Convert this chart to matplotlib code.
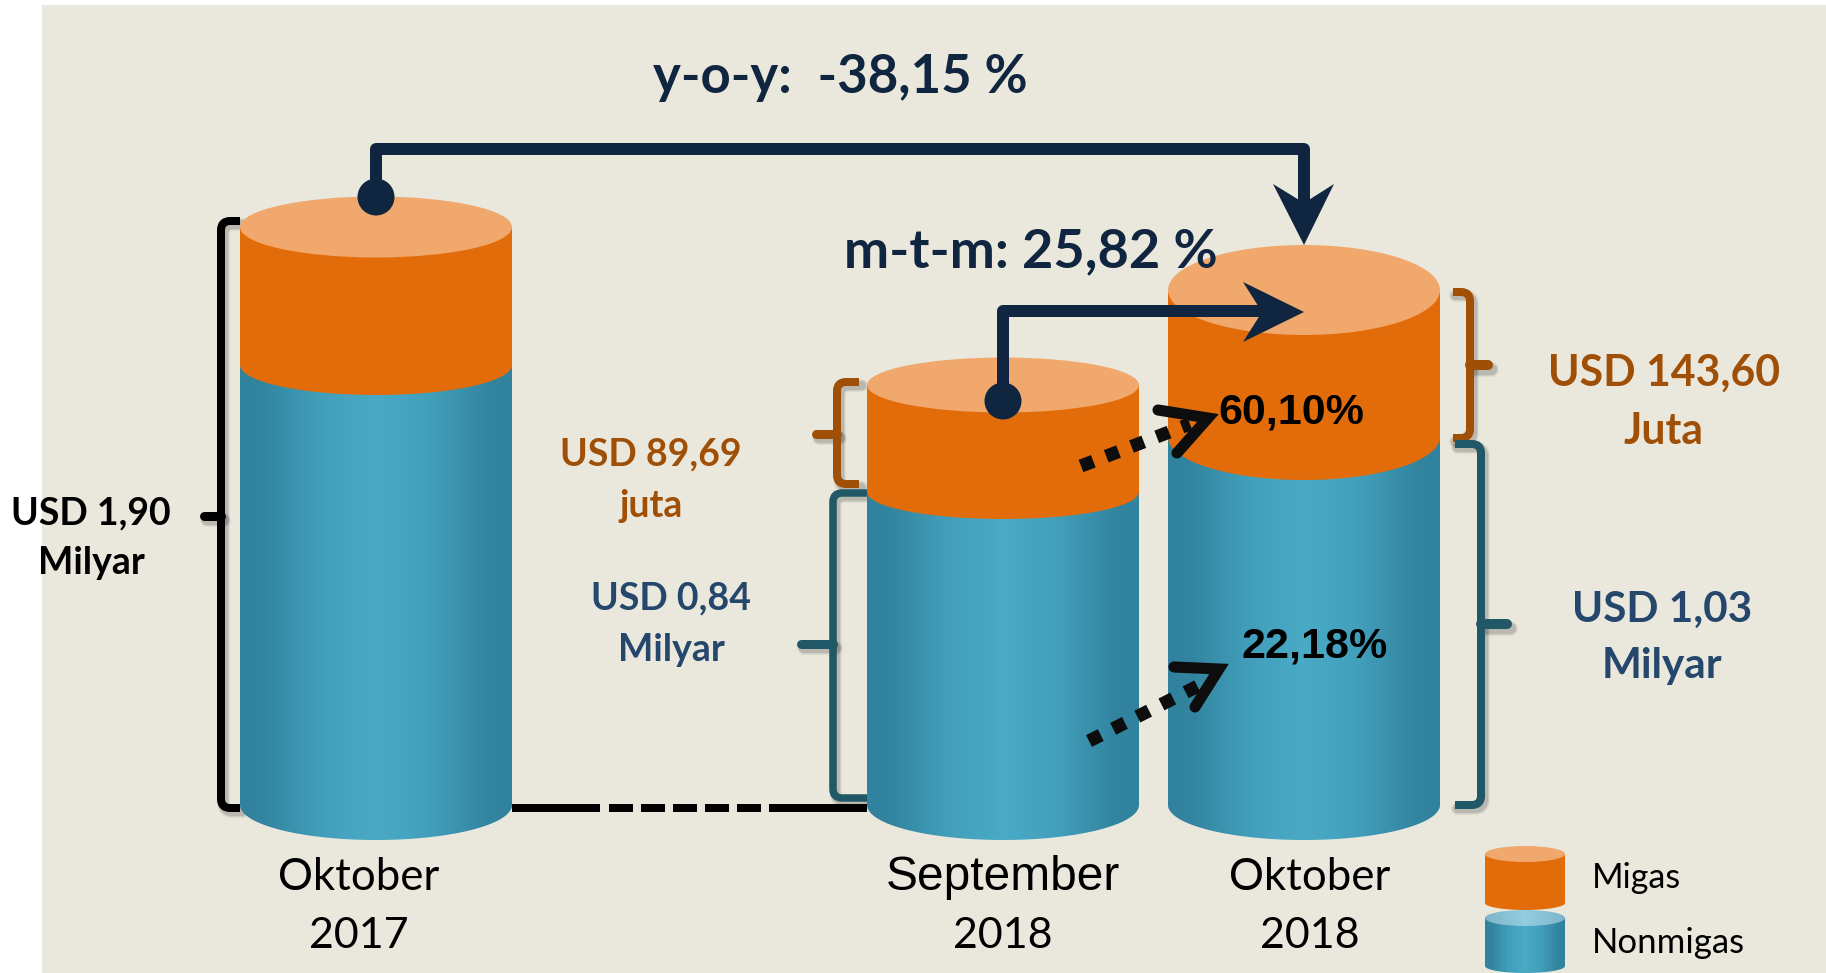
import numpy as np
import matplotlib
matplotlib.use("Agg")
import matplotlib.pyplot as plt
from matplotlib.colors import LinearSegmentedColormap
from matplotlib.patches import PathPatch, Ellipse, Rectangle, Polygon
from matplotlib.path import Path

# ---- data -----------------------------------------------------------------
periods = ["Oktober\n2017", "September\n2018", "Oktober\n2018"]
nonmigas_drawn = [440, 313, 368]      # drawn height of the blue part
migas_drawn = [138, 107, 147]         # drawn height of the orange part
total_label = "USD 1,90\nMilyar"
migas_labels = ["USD 89,69\njuta", "USD 143,60\nJuta"]
nonmigas_labels = ["USD 0,84\nMilyar", "USD 1,03\nMilyar"]
yoy_label = "y-o-y:  -38,15 %"
mtm_label = "m-t-m: 25,82 %"
migas_growth = "60,10%"
nonmigas_growth = "22,18%"
legend_names = ["Migas", "Nonmigas"]

# ---- layout ----------------------------------------------------------------
W, H = 1826, 973
BASE = 805
cyl_left = [240, 867, 1168]
cyl_w = 272
top_ry = [30.5, 27.5, 45]
seam_ry = [30, 27, 43]
bot_ry = 35

BG = "#EAE8DD"
ORANGE = "#E36C0A"
ORANGE_TOP = "#F1A86D"
NAVY = "#10253F"
BROWN = "#A04F07"
TEAL = "#205867"
LABEL_BLUE = "#24476B"
BLACK = "#000000"
DARK = "#0D0D0D"
blue_cmap = LinearSegmentedColormap.from_list(
    "cyl", [(0, "#30829E"), (0.08, "#32849F"), (0.3, "#429FBB"), (0.5, "#4AABC6"),
            (0.7, "#429FBB"), (0.92, "#32849F"), (1, "#30829E")])
lid_cmap = LinearSegmentedColormap.from_list(
    "lid", [(0, "#7DB6CB"), (0.5, "#94CDDF"), (1, "#7DB6CB")])

LATO = ["Lato", "DejaVu Sans"]
ARIAL = ["Liberation Sans", "DejaVu Sans"]
PX = 0.72  # points per pixel at 100 dpi

fig = plt.figure(figsize=(W / 100, H / 100), dpi=100, facecolor="white")
ax = fig.add_axes([0, 0, 1, 1])
ax.axis("off")
ax.add_patch(Rectangle((42, 5), W - 42, H - 5, fc=BG, ec="none", zorder=0))
grad = np.linspace(0, 1, 256).reshape(1, -1)


def arc(cx, cy, rx, ry, a0, a1, n=80):
    t = np.radians(np.linspace(a0, a1, n))
    return np.c_[cx + rx * np.cos(t), cy + ry * np.sin(t)]


def cyl_blue(x, w, ybot, yseam, rb, z=2):
    cx = x + w / 2
    low = arc(cx, ybot, w / 2, rb, 0, 180)
    pts = np.r_[[[x + w, yseam]], low, [[x, yseam]]]
    clip = Polygon(pts, closed=True, transform=ax.transData, fc="none", ec="none")
    ax.add_patch(clip)
    im = ax.imshow(grad, cmap=blue_cmap, extent=(x, x + w, ybot + rb, yseam),
                   aspect="auto", zorder=z, interpolation="bilinear")
    im.set_clip_path(clip)


def cyl_orange(x, w, yseam, ytop, rs, rt, z=3):
    cx = x + w / 2
    pts = np.r_[arc(cx, yseam, w / 2, rs, 0, 180), [[x, ytop]], [[x + w, ytop]]]
    ax.add_patch(Polygon(pts, closed=True, fc=ORANGE, ec="none", zorder=z))
    ax.add_patch(Ellipse((cx, ytop), w, 2 * rt, fc=ORANGE_TOP, ec="none", zorder=z + 0.1))


def soft_shadow(verts, codes, lw, z):
    ps = Path(np.asarray(verts, float) + [2.5, 3.5], codes)
    for extra, alpha in [(5, 0.05), (3, 0.07), (1, 0.10)]:
        ax.add_patch(PathPatch(ps, fc="none", ec="#000000", alpha=alpha, lw=(lw + extra) * PX,
                               capstyle="round", joinstyle="round", zorder=z))


def brace(tip_x, spine_x, y0, y1, tick_x, tick_y, color, lw=8, tick_lw=None):
    s = np.sign(tip_x - spine_x)
    r = 9
    M, L, C = Path.MOVETO, Path.LINETO, Path.CURVE3
    verts = [(tip_x, y0), (spine_x + s * r, y0), (spine_x, y0), (spine_x, y0 + r),
             (spine_x, y1 - r), (spine_x, y1), (spine_x + s * r, y1), (tip_x, y1)]
    codes = [M, L, C, C, L, C, C, L]
    soft_shadow(verts, codes, lw, 1.2)
    soft_shadow([(tick_x, tick_y), (spine_x, tick_y)], [M, L], tick_lw or lw, 1.2)
    ax.add_patch(PathPatch(Path(verts, codes), fc="none", ec=color, lw=lw * PX, capstyle="butt",
                           joinstyle="round", zorder=4))
    ax.plot([tick_x, spine_x], [tick_y, tick_y], color=color, lw=(tick_lw or lw) * PX,
            solid_capstyle="round", zorder=4)


# ---- cylinders -------------------------------------------------------------
for x, nm, mg, rt, rs in zip(cyl_left, nonmigas_drawn, migas_drawn, top_ry, seam_ry):
    yseam = BASE - nm
    ytop = yseam - mg
    cyl_blue(x, cyl_w, BASE, yseam, bot_ry)
    cyl_orange(x, cyl_w, yseam, ytop, rs, rt)

# ---- dashed base connector -------------------------------------------------
ax.plot([512, 600], [808, 808], color=BLACK, lw=8 * PX, solid_capstyle="butt", zorder=1.5)
ax.plot([609, 785], [808, 808], color=BLACK, lw=8 * PX, linestyle=(0, (3.0, 1.0)),
        dash_capstyle="butt", zorder=1.5)
ax.plot([785, 867], [808, 808], color=BLACK, lw=8 * PX, solid_capstyle="butt", zorder=1.5)

# ---- braces ----------------------------------------------------------------
brace(240, 221, 221, 808, 204, 516, BLACK, lw=8, tick_lw=9)
brace(859, 837, 382, 484, 816, 434, BROWN, lw=8, tick_lw=9)
brace(867, 833, 493, 798, 801, 644, TEAL, lw=7.5, tick_lw=9)
brace(1453, 1470, 292, 438, 1488, 365, BROWN, lw=8, tick_lw=10)
brace(1455, 1481, 444, 805, 1507, 624, TEAL, lw=8, tick_lw=10)

# ---- y-o-y connector -------------------------------------------------------
ax.plot([376, 376, 1304, 1304], [197, 149, 149, 208], color=NAVY, lw=12 * PX,
        solid_joinstyle="round", solid_capstyle="butt", zorder=6)
ax.add_patch(Ellipse((376, 197), 37, 37, fc=NAVY, ec="none", zorder=6))
ax.add_patch(Polygon([(1304, 245), (1273, 184), (1304, 203), (1334, 184)], closed=True,
                     fc=NAVY, ec="none", zorder=6))

# ---- m-t-m connector -------------------------------------------------------
ax.plot([1003, 1003, 1265], [401, 311, 311], color=NAVY, lw=12 * PX,
        solid_joinstyle="round", solid_capstyle="butt", zorder=6)
ax.add_patch(Ellipse((1003, 401), 37, 37, fc=NAVY, ec="none", zorder=6))
ax.add_patch(Polygon([(1304, 312), (1243, 282), (1262, 312), (1243, 342)], closed=True,
                     fc=NAVY, ec="none", zorder=6))

# ---- growth arrows ---------------------------------------------------------
for (sx, sy), (ex, ey), (b1x, b1y), (tx, ty), (b2x, b2y) in [
    ((1081, 466), (1190, 424), (1158, 410), (1208, 418), (1177, 453)),
    ((1089, 741), (1198, 686), (1174, 667), (1219, 669), (1195, 707)),
]:
    ax.plot([sx, ex], [sy, ey], color=DARK, lw=9.5, linestyle=(0, (1.0, 1.05)),
            dash_capstyle="butt", zorder=6)
    ax.plot([b1x, tx, b2x], [b1y, ty, b2y], color=DARK, lw=8, solid_capstyle="round",
            solid_joinstyle="miter", zorder=6)

# ---- text ------------------------------------------------------------------
def txt(x, y, s, size, color=BLACK, weight="normal", family=LATO, ha="center", z=7):
    ax.text(x, y, s, fontsize=size, color=color, fontweight=weight, family=family,
            ha=ha, va="center", zorder=z)


def two_lines(x, y0, y1, s, size, color, weight="bold"):
    a, b = s.split("\n")
    txt(x, y0, a, size, color, weight)
    txt(x, y1, b, size, color, weight)


txt(840, 77, yoy_label, 38, NAVY, "bold")
txt(1031, 252, mtm_label, 39, NAVY, "bold")
two_lines(91, 513, 563, total_label, 27, BLACK)
two_lines(651, 454, 506, migas_labels[0], 27, BROWN)
two_lines(671, 598, 650, nonmigas_labels[0], 27, LABEL_BLUE)
two_lines(1664, 373, 431, migas_labels[1], 30.8, BROWN)
two_lines(1662, 610, 666, nonmigas_labels[1], 30.4, LABEL_BLUE)
txt(1291, 412, migas_growth, 31, BLACK, "bold", ARIAL)
txt(1315, 646, nonmigas_growth, 31, BLACK, "bold", ARIAL)

label_x = [359, 1003, 1310]
for i, (x, s) in enumerate(zip(label_x, periods)):
    a, b = s.split("\n")
    txt(x, 878, a, 34.5 if i == 1 else 31.5, BLACK, family=ARIAL if i == 1 else LATO)
    txt(x, 936, b, 31, BLACK)

# ---- legend ----------------------------------------------------------------
lx, lw_ = 1485, 80
ax.add_patch(Polygon(np.r_[arc(lx + lw_ / 2, 903, lw_ / 2, 7, 0, 180), [[lx, 854]], [[lx + lw_, 854]]],
                     closed=True, fc=ORANGE, ec="none", zorder=3))
ax.add_patch(Ellipse((lx + lw_ / 2, 854), lw_, 16, fc=ORANGE_TOP, ec="none", zorder=3.1))
clip2 = Polygon(np.r_[arc(lx + lw_ / 2, 966, lw_ / 2, 7, 0, 180), [[lx, 918]], [[lx + lw_, 918]]],
                closed=True, fc="none", ec="none", transform=ax.transData)
ax.add_patch(clip2)
im2 = ax.imshow(grad, cmap=blue_cmap, extent=(lx, lx + lw_, 973, 918), aspect="auto", zorder=3)
im2.set_clip_path(clip2)
lid = Ellipse((lx + lw_ / 2, 918), lw_, 16, fc="none", ec="none", transform=ax.transData)
ax.add_patch(lid)
im3 = ax.imshow(grad, cmap=lid_cmap, extent=(lx, lx + lw_, 926, 910), aspect="auto", zorder=3.1)
im3.set_clip_path(lid)
txt(1592, 878, legend_names[0], 24.5, BLACK, ha="left")
txt(1592, 943, legend_names[1], 25, BLACK, ha="left")

ax.set_xlim(0, W)
ax.set_ylim(H, 0)
fig.savefig("out.png", dpi=100, facecolor="white")
